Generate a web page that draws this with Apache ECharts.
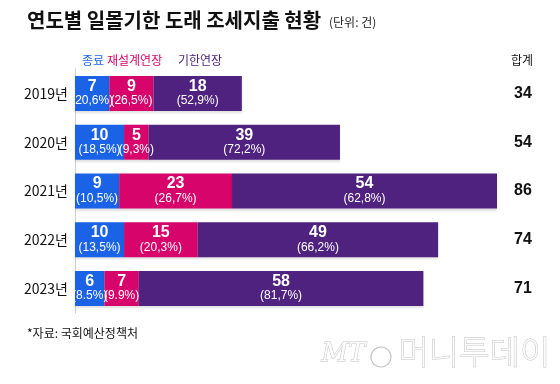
<!DOCTYPE html>
<html><head><meta charset="utf-8">
<script src="https://cdn.jsdelivr.net/npm/echarts@6/dist/echarts.min.js"></script>
<style>html,body{margin:0;padding:0;background:#fff}#c{width:560px;height:384px}</style>
</head><body><div id="c"></div>
<script>
const years = ['2019년','2020년','2021년','2022년','2023년'];
const endVals = [7, 10, 9, 10, 6];
const redesignVals = [9, 5, 23, 15, 7];
const extendVals = [18, 39, 54, 49, 58];
const endPct = ['(20,6%)','(18,5%)','(10,5%)','(13,5%)','(8.5%)'];
const redesignPct = ['(26,5%)','(9,3%)','(26,7%)','(20,3%)','(9.9%)'];
const extendPct = ['(52,9%)','(72,2%)','(62,8%)','(66,2%)','(81,7%)'];
const seriesNames = ['종료','재설계연장','기한연장'];
const totals = years.map((_, i) => endVals[i] + redesignVals[i] + extendVals[i]);

const colors = ['#1a63e6', '#d6046b', '#50227f'];
const NUMFONT = "'Liberation Sans Narrow','Liberation Sans',Arial,sans-serif";
const KFONT = "'Noto Sans CJK KR','Noto Sans',sans-serif";

function mkSeries(name, vals, pcts, color) {
  return {
    name, type: 'bar', stack: 'a', barWidth: 35,
    data: vals,
    itemStyle: { color, shadowColor: 'rgba(0,0,0,0.12)', shadowBlur: 2, shadowOffsetY: 2 },
    label: {
      show: true, position: 'inside',
      formatter: p => '{v|' + p.value + '}\n{p|' + pcts[p.dataIndex] + '}',
      rich: {
        v: { color: '#fff', fontSize: 16, fontWeight: 'bold', fontFamily: NUMFONT, lineHeight: 15, align: 'center' },
        p: { color: '#fff', fontSize: 12, fontFamily: NUMFONT, lineHeight: 14, align: 'center' }
      }
    }
  };
}

const chart = echarts.init(document.getElementById('c'), null, { renderer: 'canvas' });
chart.setOption({
  backgroundColor: '#fff',
  animation: false,
  grid: { left: 75, right: 63, top: 69, height: 244 },
  xAxis: { type: 'value', min: 0, max: 86, show: false },
  yAxis: [
    {
      type: 'category', data: years, inverse: true,
      axisLine: { show: true, lineStyle: { color: '#d0d0d0', width: 1 } },
      axisTick: { show: false },
      axisLabel: { color: '#111', fontSize: 14, fontFamily: KFONT, margin: 7 }
    },
    {
      type: 'category', data: totals.map(String), inverse: true, position: 'right',
      axisLine: { show: false }, axisTick: { show: false },
      axisLabel: { color: '#111', fontSize: 16, fontWeight: 'bold', fontFamily: NUMFONT, align: 'center', margin: 26 }
    }
  ],
  series: [
    mkSeries(seriesNames[0], endVals, endPct, colors[0]),
    mkSeries(seriesNames[1], redesignVals, redesignPct, colors[1]),
    mkSeries(seriesNames[2], extendVals, extendPct, colors[2])
  ],
  graphic: [
    { type: 'text', left: 27, top: 10, style: { text: '연도별 일몰기한 도래 조세지출 현황', fontSize: 20, fontWeight: 'bold', fontFamily: KFONT, fill: '#111' } },
    { type: 'text', left: 329, top: 16, style: { text: '(단위: 건)', fontSize: 12, fontFamily: KFONT, fill: '#222' } },
    { type: 'text', left: 82, top: 54, style: { text: seriesNames[0], fontSize: 12, fontFamily: KFONT, fill: colors[0] } },
    { type: 'text', left: 107, top: 54, style: { text: seriesNames[1], fontSize: 12, fontFamily: KFONT, fill: colors[1] } },
    { type: 'text', left: 178, top: 54, style: { text: seriesNames[2], fontSize: 12, fontFamily: KFONT, fill: colors[2] } },
    { type: 'text', left: 511, top: 54, style: { text: '합계', fontSize: 12, fontFamily: KFONT, fill: '#111' } },
    { type: 'text', left: 27, top: 327, style: { text: '*자료: 국회예산정책처', fontSize: 12, fontFamily: KFONT, fill: '#111' } },
    { type: 'text', left: 321, top: 341, style: { text: 'MT', fontSize: 26, fontStyle: 'italic', fontFamily: "'DejaVu Serif',serif", fill: '#fbfbfb', stroke: '#c4c4c4', lineWidth: 1 } },
    { type: 'circle', shape: { cx: 381, cy: 357, r: 10 }, style: { fill: 'none', stroke: '#c4c4c4', lineWidth: 1.2 } },
    { type: 'text', left: 398, top: 334, style: { text: '머니투데이', fontSize: 33, fontFamily: KFONT, fontWeight: 200, fill: '#fbfbfb', stroke: '#c4c4c4', lineWidth: 1 } }
  ]
});
</script>
</body></html>
